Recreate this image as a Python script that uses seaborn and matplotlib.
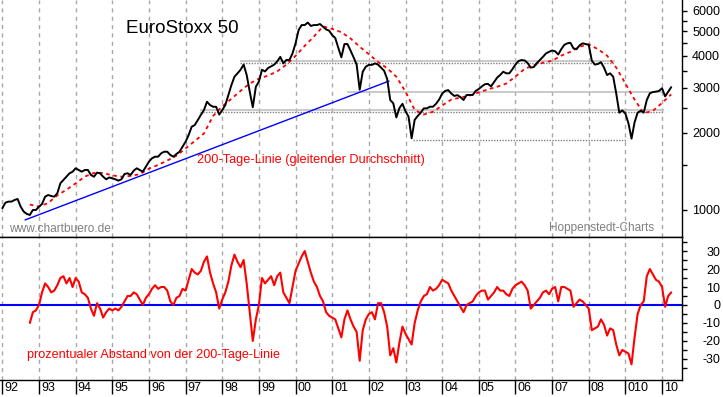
import numpy as np
import pandas as pd
import matplotlib
matplotlib.use("Agg")
import matplotlib.pyplot as plt
import matplotlib.transforms as mtrans
import seaborn as sns

# ==========================
# Data (monthly from Jan 1992)
# ==========================

price = [
    1016, 1068, 1078, 1078, 1094, 1104, 1030, 985, 965, 956,
    1000, 1000, 1030, 1055, 1127, 1144, 1134, 1127, 1162, 1271,
    1310, 1349, 1391, 1411, 1455, 1433, 1411, 1433, 1433, 1370,
    1349, 1399, 1391, 1349, 1318, 1340, 1329, 1318, 1302, 1318,
    1382, 1391, 1370, 1424, 1455, 1433, 1411, 1477, 1545, 1592,
    1615, 1615, 1665, 1689, 1689, 1640, 1615, 1655, 1689, 1767,
    1849, 1963, 2116, 2147, 2248, 2352, 2456, 2648, 2571, 2531,
    2531, 2360, 2456, 2571, 2814, 3077, 3318, 3420, 3532, 3700,
    3369, 2898, 2520, 3030, 3175, 3532, 3478, 3587, 3640, 3697,
    3809, 3966, 3740, 3858, 3858, 4090, 4480, 5050, 5280, 5280,
    5400, 5240, 5280, 5280, 5330, 5200, 5080, 5020, 4820, 4700,
    4300, 3950, 4450, 4450, 4200, 3950, 3700, 2950, 3470, 3630,
    3690, 3690, 3740, 3700, 3600, 3500, 3250, 2690, 2610, 2300,
    2500, 2600, 2430, 2315, 1905, 2250, 2330, 2400, 2495, 2495,
    2532, 2532, 2600, 2700, 2850, 2920, 2940, 2850, 2790, 2810,
    2760, 2690, 2814, 2814, 2814, 2920, 2970, 3040, 3100, 3110,
    3040, 3160, 3290, 3370, 3470, 3420, 3420, 3550, 3700, 3820,
    3855, 3840, 3750, 3600, 3620, 3750, 3855, 3966, 4090, 4150,
    4200, 4170, 4050, 4250, 4420, 4480, 4500, 4280, 4250, 4400,
    4480, 4450, 4420, 3830, 3700, 3720, 3780, 3600, 3368, 3420,
    3318, 2850, 2400, 2450, 2380, 2180, 1900, 2200, 2400, 2440,
    2400, 2690, 2857, 2890, 2900, 2920, 2990, 2780, 2900, 3020,
]

# 200-day line, read every third month from Oct 1992
ma_first_month = 9
ma_step = 3
ma200 = [
    1050, 1030, 1065, 1140, 1200, 1270, 1350, 1395, 1395, 1365,
    1349, 1358, 1380, 1450, 1500, 1560, 1630, 1740, 1860, 1990,
    2330, 2540, 2720, 2920, 3120, 3260, 3350, 3480, 3700, 4000,
    4380, 4760, 5220, 5100, 4950, 4680, 4345, 4060, 3790, 3580,
    3318, 2900, 2460, 2360, 2420, 2560, 2700, 2750, 2800, 2880,
    2960, 3030, 3120, 3320, 3560, 3680, 3760, 3830, 4010, 4150,
    4345, 4440, 4250, 4010, 3600, 3120, 2700, 2390, 2440, 2620,
    2830,
]

# percent distance from the 200-day line, monthly from Oct 1992
osc_first_month = 9
distance = [
    -10, -4, -3, 0, 7, 12, 10, 7, 8, 11,
    15, 16, 12, 15, 10, 15, 13, 7, 6, 4,
    -2, -6, 1, -2, -7, -4, -2, -3, -2, -3,
    -1, 2, 5, 5, 7, 6, 3, 0, 4, 6,
    9, 11, 9, 10, 10, 8, 2, 0, 4, 5,
    9, 8, 14, 20, 18, 17, 19, 24, 27, 18,
    12, 7, -2, 3, 7, 13, 22, 28, 24, 21,
    25, 12, -4, -20, -8, 0, 15, 12, 14, 16,
    11, 16, 18, 7, 4, 1, 10, 19, 23, 27,
    30, 24, 18, 13, 10, 5, 2, -4, -6, -7,
    -8, -13, -18, -8, -3, -8, -12, -15, -31, -14,
    -8, -5, -4, -8, 1, 1, -4, -12, -28, -24,
    -32, -21, -12, -16, -19, -22, -10, -3, 2, 5,
    6, 10, 8, 9, 11, 14, 13, 12, 8, 5,
    2, -1, -4, 0, 1, 2, 5, 7, 8, 8,
    3, 5, 7, 10, 8, 8, 6, 5, 9, 11,
    12, 13, 11, 8, -2, 0, 2, 4, 7, 8,
    6, 9, 10, 2, 10, 10, 9, 8, -1, 1,
    3, 2, 0, -2, -14, -13, -12, -8, -11, -17,
    -13, -14, -22, -28, -25, -26, -27, -33, -18, -5,
    0, 2, 16, 20, 17, 14, 13, 10, -1, 5,
    7,
]

# trend line (start, end)
trend_years = [1992.62, 2002.55]
trend_values = [914, 3190]

# horizontal support / resistance lines
solid_levels = [3830, 2459, 2890]
solid_from = [1998.49, 1997.39, 2001.40]
solid_to = [2008.72, 2010.04, 2010.04]
dotted_levels = [3740, 2420, 1877]
dotted_from = [1998.49, 1997.39, 2003.21]
dotted_to = [2008.72, 2010.04, 2009.05]

grid_years = list(range(1992, 2011))
year_labels = ["92", "93", "94", "95", "96", "97", "98", "99", "00", "01",
               "02", "03", "04", "05", "06", "07", "08", "010", "10"]

price_ticks = [1000, 2000, 3000, 4000, 5000, 6000]
price_minor = [1500, 2500, 3500, 4500, 5500]
dist_ticks = [30, 20, 10, 0, -10, -20, -30]
dist_minor = [35, 25, 15, 5, -5, -15, -25, -35]

# ==========================
# Frames
# ==========================

df_price = pd.DataFrame({
    "year": 1992 + np.arange(len(price)) / 12,
    "value": price
})
df_ma = pd.DataFrame({
    "year": 1992 + (ma_first_month + ma_step * np.arange(len(ma200))) / 12,
    "value": ma200
})
df_dist = pd.DataFrame({
    "year": 1992 + (osc_first_month + np.arange(len(distance))) / 12,
    "value": distance
})

# ==========================
# Figure
# ==========================

sns.set_theme(style="white")
plt.rcParams["font.family"] = ["Liberation Sans", "DejaVu Sans"]

W, H = 723, 397
fig = plt.figure(figsize=(W / 100, H / 100), dpi=100)
fig.patch.set_facecolor("white")

ax_top = fig.add_axes([0, (H - 237) / H, 682 / W, 237 / H])
ax_bot = fig.add_axes([0, (H - 380) / H, 682 / W, 143 / H])

xlim = (1991.936, 2010.544)
red = "#ff0000"
blue = "#0000ff"
gray_txt = "#808080"

for ax in (ax_top, ax_bot):
    ax.set_facecolor("white")
    ax.set_xlim(*xlim)
    for yr in grid_years:
        ax.axvline(yr, color="#a8a8a8", lw=1, linestyle=(0, (3, 3)), zorder=0)
    for side in ("left",):
        ax.spines[side].set_visible(False)
    for side in ("right", "bottom", "top"):
        ax.spines[side].set_color("black")
        ax.spines[side].set_linewidth(1)
    ax.set_xlabel("")
    ax.set_ylabel("")

ax_top.spines["top"].set_visible(False)

# ---------- top panel ----------

ax_top.set_yscale("log")
ax_top.set_ylim(784, 6616)

ax_top.hlines(solid_levels, solid_from, solid_to, color="#c0c0c0", lw=1.2, zorder=1)
ax_top.hlines(dotted_levels, dotted_from, dotted_to, color="#808080", lw=1,
              linestyle=(0, (1, 1)), zorder=1)

sns.lineplot(x=trend_years, y=trend_values, ax=ax_top, color=blue, lw=1)
sns.lineplot(data=df_ma, x="year", y="value", ax=ax_top, color=red, lw=1.3,
             linestyle=(0, (2, 2)), estimator=None)
sns.lineplot(data=df_price, x="year", y="value", ax=ax_top, color="black",
             lw=1.4, estimator=None)

ax_top.set_xticks([])
ax_top.yaxis.tick_right()
ax_top.set_yticks(price_ticks)
ax_top.set_yticks(price_minor, minor=True)
ax_top.set_yticklabels([str(v) for v in price_ticks])
ax_top.set_yticklabels([], minor=True)
ax_top.set_xlabel("")
ax_top.set_ylabel("")

# ---------- bottom panel ----------

ax_bot.set_ylim(-41.7, 37.8)
ax_bot.axhline(0, color=blue, lw=1.5, zorder=2)
sns.lineplot(data=df_dist, x="year", y="value", ax=ax_bot, color=red,
             lw=1.5, estimator=None)

ax_bot.yaxis.tick_right()
ax_bot.set_yticks(dist_ticks)
ax_bot.set_yticks(dist_minor, minor=True)
ax_bot.set_yticklabels([str(v) for v in dist_ticks])
ax_bot.set_yticklabels([], minor=True)
ax_bot.set_xlabel("")
ax_bot.set_ylabel("")

ax_bot.set_xticks(grid_years)
ax_bot.set_xticklabels(year_labels)

for ax in (ax_top, ax_bot):
    ax.tick_params(axis="y", which="both", direction="out", length=3.6,
                   width=1, color="black", right=True, left=False,
                   labelright=True, labelleft=False, pad=23.8,
                   labelsize=9, labelcolor="black")
    for lbl in ax.get_yticklabels():
        lbl.set_horizontalalignment("right")

ax_bot.tick_params(axis="x", which="major", direction="out", length=10,
                   width=1, color="black", bottom=True, pad=-8.6,
                   labelsize=9, labelcolor="black")
shift = mtrans.ScaledTranslation(2 / 100, 0, fig.dpi_scale_trans)
for lbl in ax_bot.get_xticklabels():
    lbl.set_horizontalalignment("left")
    lbl.set_transform(lbl.get_transform() + shift)

# ---------- texts ----------


def px(x, y):
    return x / W, 1 - y / H


fig.text(*px(126, 33), "EuroStoxx 50", fontsize=13.5, color="black",
         ha="left", va="baseline")
fig.text(*px(197, 163), "200-Tage-Linie (gleitender Durchschnitt)",
         fontsize=9.2, color=red, ha="left", va="baseline")
fig.text(*px(9, 232), "www.chartbuero.de", fontsize=8.6, color=gray_txt,
         ha="left", va="baseline")
fig.text(*px(549, 231), "Hoppenstedt-Charts", fontsize=8.5, color=gray_txt,
         ha="left", va="baseline")
fig.text(*px(27, 358), "prozentualer Abstand von der 200-Tage-Linie",
         fontsize=9.1, color=red, ha="left", va="baseline")

fig.savefig("out.png", dpi=100)
